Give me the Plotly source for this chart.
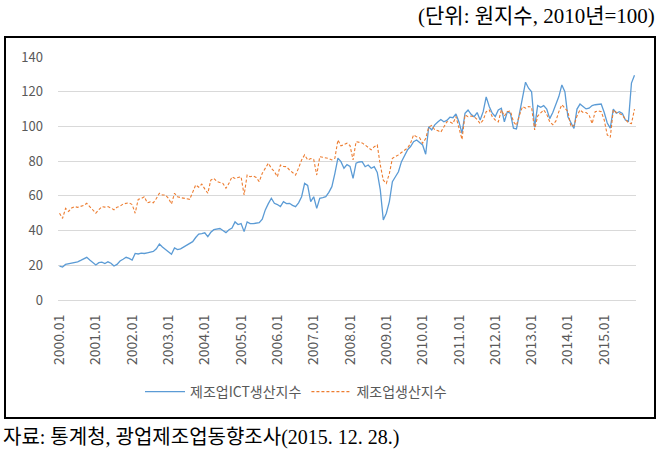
import plotly.graph_objects as go

years = list(range(2000, 2016))
months = [f"{y}.{m:02d}" for y in years for m in range(1, 13)][:191]
tick_labels = [f"{y}.01" for y in years]

ict_2000_2007 = [
    19.5, 19.0, 20.5, 20.8, 21.0, 21.5, 22.0, 22.8, 23.5, 24.6, 23.0, 21.5,
    20.2, 21.5, 21.8, 21.0, 22.0, 21.2, 19.6, 20.5, 22.5, 23.5, 24.6, 24.0,
    23.0, 26.8, 26.5, 27.0, 26.8, 27.2, 27.5, 28.0, 29.5, 32.3, 30.5, 29.0,
    27.5, 26.3, 30.0, 29.0, 29.5, 30.5, 31.5, 32.5, 33.6, 36.0, 38.0, 38.3,
    38.7, 36.5, 39.0, 40.5, 41.0, 41.2, 40.0, 38.8, 40.5, 41.5, 45.0, 43.5,
    44.0, 39.4, 45.0, 44.0, 44.0, 44.2, 44.5, 46.5, 51.9, 55.5, 58.6, 55.7,
    55.0, 53.8, 56.6, 55.5, 55.7, 54.5, 53.8, 56.0, 59.5, 67.2, 66.0, 56.7,
    59.5, 52.8, 58.6, 59.0, 59.5, 62.0, 65.3, 73.0, 81.7, 79.7, 75.9, 78.0,
]
ict_2008_2015 = [
    77.0, 70.1, 78.8, 79.5, 79.7, 76.8, 77.8, 75.9, 76.8, 73.5, 63.4, 46.1,
    50.0, 56.7, 68.2, 71.0, 73.9, 79.7, 83.5, 86.5, 88.4, 91.2, 92.2, 91.0,
    89.3, 84.0, 99.8, 98.0, 100.9, 102.6, 104.0, 102.7, 103.5, 105.3, 105.0, 107.2,
    102.6, 96.0, 107.6, 109.5, 107.0, 105.6, 108.0, 103.7, 108.5, 117.0, 111.5, 107.6,
    105.7, 109.5, 110.5, 102.7, 108.5, 107.5, 99.0, 98.6, 107.6, 115.3, 125.5, 122.0,
    120.0, 99.5, 112.0, 111.0, 112.0, 110.0, 104.5, 108.0, 112.5, 117.2, 123.9, 120.0,
    105.6, 102.0, 98.8, 110.0, 112.9, 111.5, 110.1, 110.5, 112.0, 112.5, 112.5, 112.9,
    108.0, 102.0, 99.0, 110.0, 107.6, 108.5, 107.5, 103.7, 103.0, 125.0, 129.5,
]
ict_index = ict_2000_2007 + ict_2008_2015

mfg_2000_2007 = [
    50.0, 47.0, 52.8, 51.0, 53.0, 53.8, 53.4, 54.0, 54.5, 55.7, 53.8, 52.5,
    50.0, 52.0, 53.8, 53.5, 53.8, 53.0, 52.0, 53.5, 54.0, 55.3, 55.5, 56.0,
    55.0, 50.0, 58.0, 58.5, 59.5, 56.0, 56.5, 56.0, 58.5, 61.5, 60.5, 60.5,
    58.6, 55.3, 61.5, 59.5, 59.0, 58.6, 58.0, 58.0, 62.0, 66.3, 65.0, 66.8,
    64.0, 61.5, 69.1, 70.1, 68.2, 67.6, 67.2, 64.4, 67.2, 71.0, 70.0, 70.6,
    71.0, 60.5, 72.0, 71.0, 71.5, 70.6, 68.2, 73.0, 76.0, 78.8, 75.9, 74.0,
    71.0, 77.8, 77.0, 76.8, 74.9, 73.5, 72.0, 76.0, 80.7, 83.6, 80.7, 81.5,
    81.0, 72.0, 82.6, 82.2, 82.0, 81.5, 80.7, 81.7, 92.2, 88.8, 89.5, 90.3,
]
mfg_2008_2015 = [
    89.0, 80.7, 91.2, 91.0, 90.5, 89.3, 88.0, 86.5, 88.3, 89.3, 77.8, 69.0,
    67.2, 72.9, 81.6, 82.5, 83.6, 85.0, 86.5, 87.5, 90.3, 95.1, 94.0, 93.5,
    90.3, 93.0, 99.6, 100.6, 98.0, 97.6, 96.7, 100.0, 102.7, 102.6, 101.6, 105.7,
    98.6, 92.5, 106.6, 105.6, 106.0, 105.6, 104.0, 101.6, 103.7, 108.5, 109.5, 105.6,
    103.7, 102.6, 109.5, 106.0, 108.5, 108.9, 102.7, 100.6, 106.6, 111.4, 110.5, 111.5,
    111.0, 98.0, 106.0, 107.5, 109.5, 107.0, 102.6, 101.0, 103.0, 108.5, 112.5, 110.5,
    108.5, 99.9, 100.6, 106.0, 109.5, 108.0, 108.0, 106.6, 101.6, 108.5, 109.0, 108.5,
    103.7, 95.1, 93.7, 109.5, 108.0, 107.5, 106.6, 104.0, 102.0, 101.6, 110.0,
]
mfg_index = mfg_2000_2007 + mfg_2008_2015

y_ticks = [0, 20, 40, 60, 80, 100, 120, 140]

W, H = 661, 455
ML, MR, MT, MB = 58, 25, 57, 155

fig = go.Figure()
fig.add_trace(go.Scatter(
    x=months, y=ict_index, mode="lines", name="제조업ICT생산지수",
    line=dict(color="#5B9BD5", width=1.3),
))
fig.add_trace(go.Scatter(
    x=months, y=mfg_index, mode="lines", name="제조업생산지수",
    line=dict(color="#ED7D31", width=1.1, dash="3px,2px"),
))

pw = W - ML - MR
ph = H - MT - MB
def px_x(x):
    return (x - ML) / pw
def px_y(y):
    return (H - MB - y) / ph

fig.add_shape(type="rect", xref="paper", yref="paper",
              x0=px_x(5), x1=px_x(655), y0=px_y(418), y1=px_y(37),
              line=dict(color="black", width=2), fillcolor="rgba(0,0,0,0)", layer="below")

fig.add_annotation(text="(단위: 원지수, 2010년=100)", xref="paper", yref="paper",
                   x=px_x(657), y=px_y(16), xanchor="right", yanchor="middle",
                   showarrow=False,
                   font=dict(family="Liberation Serif, Noto Sans CJK KR", size=21, color="black"))
fig.add_annotation(text="자료: 통계청, 광업제조업동향조사(2015. 12. 28.)", xref="paper", yref="paper",
                   x=px_x(1), y=px_y(437), xanchor="left", yanchor="middle",
                   showarrow=False,
                   font=dict(family="Liberation Serif, Noto Sans CJK KR", size=20, color="black"))

fig.update_layout(
    width=W, height=H,
    margin=dict(l=ML, r=MR, t=MT, b=MB, pad=0),
    paper_bgcolor="white", plot_bgcolor="white",
    font=dict(family="Noto Sans CJK KR, Noto Sans", color="#595959", size=11),
    showlegend=True,
    legend=dict(orientation="h", x=px_x(140), xanchor="left", y=px_y(392), yanchor="middle",
                font=dict(size=14, color="#595959"), itemwidth=40, tracegroupgap=0),
    xaxis=dict(
        type="category", tickmode="array", tickvals=tick_labels, ticktext=tick_labels,
        tickangle=-90, showgrid=False, showline=True, linecolor="#D9D9D9",
        ticks="", ticklabelstandoff=8, tickfont=dict(size=14, color="#595959"),
        range=[-0.5, len(months) - 0.5],
    ),
    yaxis=dict(
        range=[0, 140], tickvals=y_ticks, showgrid=True, gridcolor="#D9D9D9",
        zeroline=False, showline=False, ticks="", ticklabelstandoff=14,
        tickfont=dict(size=13, color="#595959"),
    ),
)

fig.write_html("out.html")
